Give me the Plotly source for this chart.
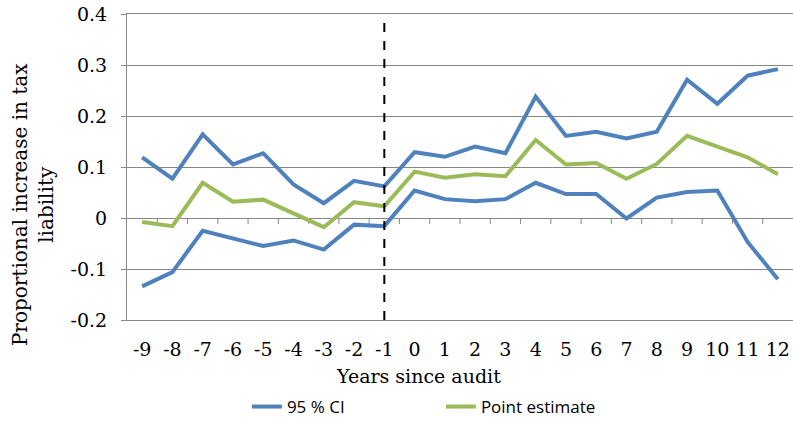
import plotly.graph_objects as go

# Event-time axis and estimates
years = list(range(-9, 13))
ci_upper = [0.119, 0.077, 0.164, 0.105, 0.127, 0.066, 0.029, 0.073, 0.062,
            0.129, 0.120, 0.140, 0.127, 0.238, 0.161, 0.169, 0.156, 0.169,
            0.271, 0.224, 0.279, 0.292]
point_est = [-0.008, -0.016, 0.069, 0.032, 0.036, 0.009, -0.018, 0.031, 0.023,
             0.091, 0.079, 0.086, 0.082, 0.153, 0.105, 0.108, 0.077, 0.106,
             0.161, 0.140, 0.119, 0.086]
ci_lower = [-0.134, -0.106, -0.025, -0.040, -0.055, -0.044, -0.062, -0.013, -0.016,
            0.054, 0.037, 0.033, 0.037, 0.069, 0.047, 0.047, -0.001, 0.040,
            0.051, 0.054, -0.047, -0.120]
audit_year = -1
y_ticks = [-0.2, -0.1, 0, 0.1, 0.2, 0.3, 0.4]
y_tick_text = ["-0.2", "-0.1", "0", "0.1", "0.2", "0.3", "0.4"]

BLUE = "#4F81BD"
GREEN = "#9BBB59"
GRID = "#878787"
SERIF = "DejaVu Serif"

W, H = 793, 425
MARGIN = dict(l=127, r=0, t=14, b=103)
x_range = [years[0] - 0.5, years[-1] + 0.5]
y_lo, y_hi = y_ticks[0], y_ticks[-1]

fig = go.Figure()

# category-boundary tick marks hanging below the y = 0 axis line
tick_px = 6
plot_h = H - MARGIN["t"] - MARGIN["b"]
tick_len = tick_px * (y_hi - y_lo) / plot_h
bounds = [v + 0.5 for v in years[:-1]]
fig.add_trace(go.Scatter(x=bounds, y=[0] * len(bounds), mode="markers",
                         marker=dict(size=1, opacity=0), showlegend=False,
                         hoverinfo="skip",
                         error_y=dict(type="data", symmetric=False,
                                      array=[0] * len(bounds),
                                      arrayminus=[tick_len] * len(bounds),
                                      color=GRID, thickness=1, width=0)))

fig.add_trace(go.Scatter(x=years, y=ci_upper, mode="lines", name="95 % CI",
                         legendgroup="ci", line=dict(color=BLUE, width=4)))
fig.add_trace(go.Scatter(x=years, y=ci_lower, mode="lines", name="95 % CI",
                         legendgroup="ci", showlegend=False,
                         line=dict(color=BLUE, width=4)))
fig.add_trace(go.Scatter(x=years, y=point_est, mode="lines", name="Point estimate",
                         line=dict(color=GREEN, width=4)))

fig.add_vline(x=audit_year, line=dict(color="black", width=2, dash="dash"))

fig.update_layout(
    width=W, height=H,
    margin=MARGIN,
    paper_bgcolor="white", plot_bgcolor="white",
    showlegend=True,
    legend=dict(orientation="h", x=0.180, xanchor="left", y=-0.286, yanchor="middle",
                font=dict(family="Open Sans", size=17, color="black"),
                entrywidth=149, entrywidthmode="pixels", bgcolor="rgba(0,0,0,0)"),
    xaxis=dict(range=x_range, tickmode="array", tickvals=years,
               ticktext=[str(v) for v in years], showgrid=False, zeroline=False,
               ticks="", showline=True, mirror=True, linecolor=GRID, linewidth=1,
               ticklabelstandoff=12,
               tickfont=dict(family=SERIF, size=19, color="black")),
    yaxis=dict(range=[y_lo, y_hi], tickmode="array", tickvals=y_ticks,
               ticktext=y_tick_text, showgrid=True, gridcolor=GRID, gridwidth=1,
               zeroline=True, zerolinecolor=GRID, zerolinewidth=1,
               showline=True, linecolor=GRID, linewidth=1,
               ticks="outside", ticklen=5, tickcolor=GRID, ticklabelstandoff=10,
               tickfont=dict(family=SERIF, size=19, color="black")),
    annotations=[
        dict(text="Proportional increase in tax<br>liability", textangle=-90,
             xref="paper", yref="paper", x=-0.14, y=0.378, xanchor="center",
             yanchor="middle", showarrow=False,
             font=dict(family=SERIF, size=20, color="black")),
        dict(text="Years since audit", xref="paper", yref="paper",
             x=0.437, y=-0.182, xanchor="center", yanchor="middle", showarrow=False,
             font=dict(family=SERIF, size=19, color="black")),
    ],
)

fig.write_html("out.html")
